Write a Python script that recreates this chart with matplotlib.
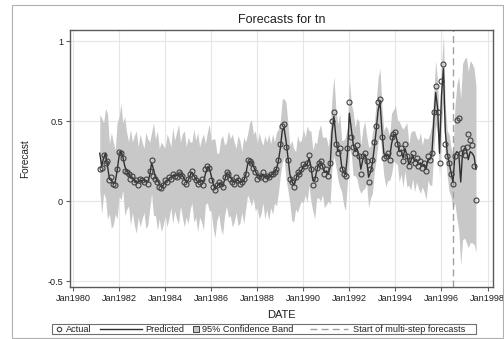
import datetime as dt

import matplotlib
matplotlib.use("Agg")
import matplotlib.pyplot as plt
import matplotlib.dates as mdates
from matplotlib.lines import Line2D
from matplotlib.patches import Rectangle
import numpy as np
import pandas as pd

plt.rcParams['font.family'] = ['Liberation Sans', 'DejaVu Sans']

# monthly series, Mar 1981 .. Jul 1997
start_month = '1981-03-01'
forecast_start = dt.datetime(1996, 7, 1)

actual = [
    0.20, 0.21, 0.29, 0.24, 0.25, 0.13, 0.15, 0.11, 0.10, 0.20,                # 1981
    0.31, 0.30, 0.27, 0.19, 0.18, 0.17, 0.14, 0.16, 0.12, 0.13, 0.10, 0.14,    # 1982
    0.13, 0.12, 0.14, 0.11, 0.19, 0.26, 0.16, 0.14, 0.12, 0.09, 0.08, 0.10,    # 1983
    0.13, 0.12, 0.15, 0.14, 0.17, 0.16, 0.15, 0.18, 0.17, 0.16, 0.12, 0.11,    # 1984
    0.14, 0.17, 0.19, 0.15, 0.13, 0.11, 0.12, 0.14, 0.10, 0.20, 0.22, 0.21,    # 1985
    0.13, 0.09, 0.07, 0.10, 0.12, 0.11, 0.09, 0.15, 0.18, 0.17, 0.14, 0.12,    # 1986
    0.11, 0.15, 0.13, 0.11, 0.12, 0.14, 0.17, 0.26, 0.25, 0.24, 0.21, 0.18,    # 1987
    0.14, 0.16, 0.15, 0.18, 0.14, 0.16, 0.15, 0.17, 0.17, 0.18, 0.20, 0.26,    # 1988
    0.36, 0.47, 0.48, 0.34, 0.26, 0.14, 0.12, 0.09, 0.15, 0.18, 0.17, 0.20,    # 1989
    0.23, 0.22, 0.24, 0.29, 0.20, 0.10, 0.14, 0.21, 0.24, 0.25, 0.22, 0.17,    # 1990
    0.20, 0.16, 0.24, 0.50, 0.56, 0.36, 0.30, 0.33, 0.20, 0.17, 0.16, 0.33,    # 1991
    0.62, 0.40, 0.34, 0.30, 0.35, 0.28, 0.17, 0.28, 0.30, 0.25, 0.12, 0.20,    # 1992
    0.26, 0.37, 0.47, 0.62, 0.64, 0.40, 0.27, 0.28, 0.30, 0.26, 0.40, 0.42,    # 1993
    0.43, 0.36, 0.30, 0.33, 0.25, 0.36, 0.28, 0.22, 0.26, 0.30, 0.24, 0.27,    # 1994
    0.22, 0.25, 0.21, 0.24, 0.19, 0.28, 0.26, 0.30, 0.56, 0.72, 0.56, 0.24,    # 1995
    0.75, 0.86, 0.36, 0.28, 0.24, 0.17, 0.11, 0.28, 0.51, 0.52, 0.30, 0.33,    # 1996
    0.29, 0.34, 0.42, 0.38, 0.35, 0.22, 0.01,                                  # 1997
]

predicted = [
    0.30, 0.22, 0.27, 0.30, 0.22, 0.14, 0.13, 0.11, 0.12, 0.19,
    0.28, 0.31, 0.28, 0.22, 0.19, 0.17, 0.15, 0.15, 0.13, 0.12, 0.12, 0.13,
    0.13, 0.13, 0.13, 0.12, 0.16, 0.24, 0.20, 0.15, 0.13, 0.11, 0.09, 0.10,
    0.12, 0.13, 0.14, 0.15, 0.16, 0.16, 0.16, 0.17, 0.17, 0.16, 0.14, 0.12,
    0.13, 0.16, 0.18, 0.16, 0.14, 0.12, 0.12, 0.13, 0.12, 0.17, 0.21, 0.21,
    0.16, 0.11, 0.08, 0.09, 0.11, 0.11, 0.10, 0.13, 0.17, 0.17, 0.15, 0.13,
    0.12, 0.13, 0.13, 0.12, 0.12, 0.13, 0.16, 0.23, 0.25, 0.24, 0.22, 0.19,
    0.16, 0.16, 0.15, 0.17, 0.15, 0.16, 0.15, 0.16, 0.17, 0.18, 0.20, 0.25,
    0.33, 0.44, 0.46, 0.38, 0.28, 0.17, 0.13, 0.10, 0.13, 0.17, 0.17, 0.19,
    0.22, 0.22, 0.23, 0.27, 0.22, 0.13, 0.13, 0.19, 0.23, 0.24, 0.22, 0.18,
    0.19, 0.17, 0.21, 0.43, 0.53, 0.40, 0.31, 0.32, 0.22, 0.18, 0.17, 0.29,
    0.55, 0.45, 0.36, 0.31, 0.33, 0.29, 0.20, 0.26, 0.29, 0.26, 0.15, 0.18,
    0.24, 0.34, 0.44, 0.57, 0.62, 0.44, 0.30, 0.28, 0.29, 0.27, 0.36, 0.41,
    0.42, 0.37, 0.31, 0.32, 0.27, 0.33, 0.29, 0.23, 0.25, 0.29, 0.25, 0.26,
    0.23, 0.24, 0.22, 0.23, 0.20, 0.26, 0.26, 0.29, 0.50, 0.68, 0.58, 0.30,
    0.66, 0.83, 0.44, 0.30, 0.24, 0.18, 0.12, 0.29, 0.31, 0.30, 0.12, 0.31,
    0.33, 0.32, 0.26, 0.31, 0.30, 0.28, 0.20,
]

# half width of the 95% band around the prediction
band_half = [
    0.24, 0.30, 0.22, 0.28, 0.33, 0.22, 0.30, 0.26, 0.20, 0.30,
    0.25, 0.30, 0.21, 0.31, 0.24, 0.20, 0.30, 0.22, 0.28, 0.32, 0.22, 0.29,
    0.24, 0.20, 0.30, 0.27, 0.21, 0.19, 0.29, 0.24, 0.31, 0.22, 0.28, 0.25,
    0.21, 0.29, 0.25, 0.19, 0.30, 0.22, 0.27, 0.31, 0.20, 0.26, 0.30, 0.22,
    0.27, 0.21, 0.19, 0.29, 0.24, 0.31, 0.22, 0.26, 0.30, 0.19, 0.22, 0.27,
    0.22, 0.28, 0.31, 0.21, 0.19, 0.28, 0.31, 0.22, 0.20, 0.27, 0.24, 0.29,
    0.25, 0.20, 0.28, 0.26, 0.19, 0.27, 0.21, 0.19, 0.24, 0.27, 0.20, 0.25,
    0.20, 0.27, 0.23, 0.18, 0.26, 0.21, 0.27, 0.20, 0.25, 0.19, 0.23, 0.20,
    0.17, 0.20, 0.18, 0.24, 0.21, 0.18, 0.25, 0.23, 0.18, 0.24, 0.20, 0.19,
    0.23, 0.18, 0.24, 0.17, 0.22, 0.19, 0.24, 0.17, 0.21, 0.24, 0.18, 0.22,
    0.21, 0.17, 0.23, 0.22, 0.25, 0.18, 0.17, 0.23, 0.16, 0.20, 0.23, 0.17,
    0.22, 0.16, 0.20, 0.15, 0.19, 0.21, 0.15, 0.19, 0.21, 0.15, 0.19, 0.16,
    0.19, 0.15, 0.18, 0.20, 0.21, 0.15, 0.14, 0.19, 0.16, 0.14, 0.19, 0.16,
    0.18, 0.14, 0.19, 0.15, 0.18, 0.14, 0.20, 0.13, 0.18, 0.15, 0.19, 0.14,
    0.15, 0.19, 0.13, 0.17, 0.19, 0.13, 0.16, 0.19, 0.18, 0.20, 0.16, 0.15,
    0.18, 0.21, 0.16, 0.14, 0.18, 0.15, 0.17, 0.30, 0.42, 0.48, 0.52, 0.55,
    0.56, 0.58, 0.55, 0.57, 0.56, 0.55, 0.52,
]

year_ticks = list(range(1980, 1999, 2))
y_ticks = [-0.5, 0, 0.5, 1]

dates = pd.date_range(start_month, periods=len(actual), freq='MS')
pred = np.array(predicted)
half = np.array(band_half)

W, H = 504, 339
fig = plt.figure(figsize=(W / 100, H / 100), dpi=100)
ax = fig.add_axes([70 / W, 1 - 287 / H, 423 / W, 257 / H])

ax.fill_between(dates, pred - half, pred + half, color='#c8c8c8', lw=0, zorder=1)
ax.plot(dates, pred, color='#303030', lw=1.0, zorder=3)
ax.plot(dates, actual, ls='none', marker='o', ms=3.6, mfc='none',
        mec='#404040', mew=0.8, zorder=4)
ax.axvline(forecast_start, color='#a0a0a0', lw=1.0, ls=(0, (5, 3)), zorder=2)

ax.set_xlim(dt.datetime(1979, 11, 15), dt.datetime(1998, 3, 28))
ax.set_ylim(-0.536, 1.07)
ax.set_xticks([dt.datetime(y, 1, 1) for y in year_ticks])
ax.xaxis.set_major_formatter(mdates.DateFormatter('%b%Y'))
ax.set_yticks(y_ticks)
ax.set_yticklabels(['-0.5', '0', '0.5', '1'])
ax.grid(True, color='#e6e6e6', lw=0.8, zorder=0)
ax.set_axisbelow(True)
ax.tick_params(labelsize=6.6, length=3, width=0.8, color='#606060',
               labelcolor='#202020', pad=2)
for s in ax.spines.values():
    s.set_color('#5a5a5a')
    s.set_linewidth(1.0)

ax.set_xlabel('DATE', fontsize=8, color='#202020')
ax.xaxis.set_label_coords(0.5, -0.09)
ax.set_ylabel('Forecast', fontsize=7.2, color='#202020')
ax.yaxis.set_label_coords(-0.095, 0.5)
fig.text((70 + 493) / 2 / W, 1 - 20 / H, 'Forecasts for tn', ha='center',
         va='center', fontsize=9, color='#202020')

# legend strip under the plot
def fx(px):
    return px / W

def fy(py):
    return 1 - py / H

fig.add_artist(Rectangle((fx(52), fy(334)), fx(476) - fx(52), fy(324) - fy(334),
                         transform=fig.transFigure, fill=False,
                         ec='#707070', lw=0.8))
ly = fy(329)
fs = 6.6
fig.add_artist(Line2D([fx(59)], [ly], transform=fig.transFigure, ls='none',
                      marker='o', ms=3.2, mfc='none', mec='#404040', mew=0.8))
fig.text(fx(66), ly, 'Actual', fontsize=fs, va='center', color='#202020')
fig.add_artist(Line2D([fx(100), fx(142)], [ly, ly], transform=fig.transFigure,
                      color='#303030', lw=1.0))
fig.text(fx(145), ly, 'Predicted', fontsize=fs, va='center', color='#202020')
fig.add_artist(Rectangle((fx(193), fy(332)), fx(199.5) - fx(193), fy(326) - fy(332),
                         transform=fig.transFigure, fc='#c8c8c8', ec='#404040', lw=0.7))
fig.text(fx(202), ly, '95% Confidence Band', fontsize=fs, va='center', color='#202020')
fig.add_artist(Line2D([fx(310), fx(348)], [ly, ly], transform=fig.transFigure,
                      color='#a0a0a0', lw=1.0, ls=(0, (5, 3))))
fig.text(fx(353), ly, 'Start of multi-step forecasts', fontsize=fs, va='center',
         color='#202020')

# outer frame
fig.add_artist(Rectangle((fx(12), fy(338)), fx(503) - fx(12), fy(5) - fy(338),
                         transform=fig.transFigure, fill=False, ec='#b0b0b0', lw=0.8))

fig.savefig('out.png', dpi=100)
